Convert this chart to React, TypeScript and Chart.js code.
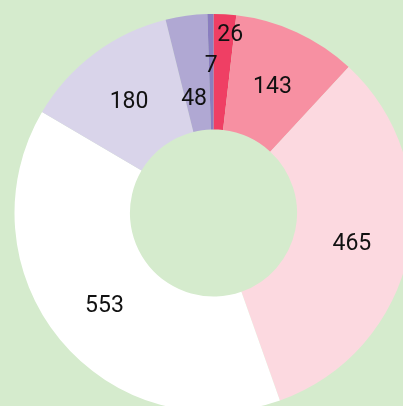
import React, { useEffect, useRef } from "react";
import { Chart, registerables } from "chart.js";

Chart.register(...registerables);

const categories = ["A", "B", "C", "D", "E", "F", "G"];
const values = [26, 143, 465, 553, 180, 48, 7];
const colors = ["#ef3f64", "#f790a2", "#fcd9e0", "#ffffff", "#d9d4ea", "#b0a8d3", "#8a7ebf"];

const BG = "#d5ebcd";

const labelPlugin = {
  id: "sliceLabels",
  afterDatasetsDraw(chart: any, _args: any, opts: any) {
    const ctx = chart.ctx;
    const meta = chart.getDatasetMeta(0);
    const ds = chart.data.datasets[0];
    const adjR = opts.radiusAdjust || {};
    const adjA = opts.angleAdjust || {};
    ctx.save();
    ctx.font = opts.font;
    ctx.fillStyle = opts.color;
    ctx.textAlign = "center";
    ctx.textBaseline = "middle";
    meta.data.forEach((arc: any, i: number) => {
      const p = arc.getProps(["x", "y", "startAngle", "endAngle", "innerRadius", "outerRadius"], true);
      const mid = (p.startAngle + p.endAngle) / 2 + ((adjA[i] || 0) * Math.PI) / 180;
      const r = (p.innerRadius + p.outerRadius) / 2 + (adjR[i] || 0);
      ctx.fillText(String(ds.data[i]), p.x + Math.cos(mid) * r, p.y + Math.sin(mid) * r + opts.yShift);
    });
    ctx.restore();
  },
};

export default function App() {
  const ref = useRef<HTMLCanvasElement | null>(null);
  useEffect(() => {
    document.body.style.margin = "0";
    document.body.style.background = BG;
    document.body.style.overflow = "hidden";
    const chart = new Chart(ref.current as HTMLCanvasElement, {
      type: "doughnut",
      data: {
        labels: categories,
        datasets: [
          {
            data: values,
            backgroundColor: colors,
            borderWidth: 0,
          },
        ],
      },
      options: {
        responsive: false,
        animation: false,
        cutout: "42%",
        layout: { padding: 14 },
        plugins: {
          legend: { display: false },
          tooltip: { enabled: false },
          sliceLabels: {
            font: "23px Roboto",
            color: "#111111",
            yShift: 3,
            radiusAdjust: { 0: 40, 5: -23, 6: 8 },
            angleAdjust: { 0: 2, 5: -1.6 },
          },
        } as any,
      },
      plugins: [labelPlugin],
    });
    return () => chart.destroy();
  }, []);
  return (
    <div style={{ position: "fixed", left: 0, top: 0, width: 403, height: 406, overflow: "hidden", background: BG }}>
      <canvas ref={ref} width={427} height={426} style={{ position: "absolute", left: 0, top: 0, width: 427, height: 426 }} />
    </div>
  );
}
